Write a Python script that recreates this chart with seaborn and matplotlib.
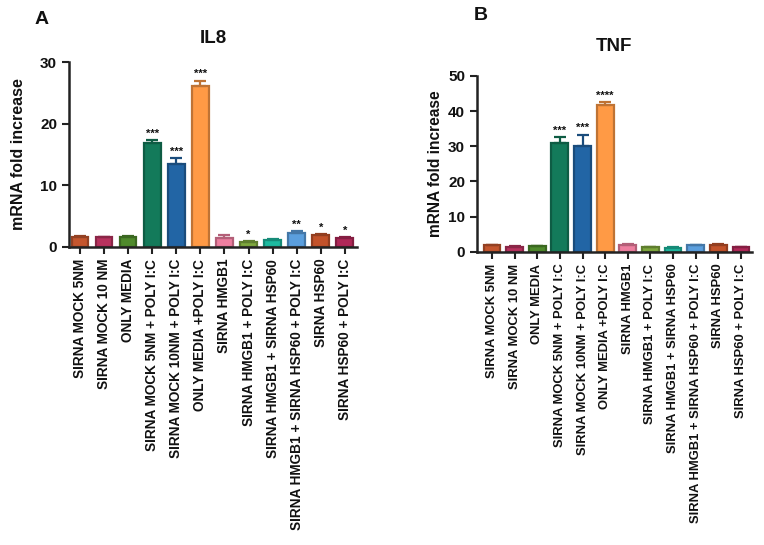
import numpy as np
import pandas as pd
import seaborn as sns
import matplotlib.pyplot as plt
from matplotlib.colors import to_rgb

# Data
groups = ["SIRNA MOCK 5NM", "SIRNA MOCK 10 NM", "ONLY MEDIA",
          "SIRNA MOCK 5NM + POLY I:C", "SIRNA MOCK 10NM + POLY I:C",
          "ONLY MEDIA +POLY I:C", "SIRNA HMGB1", "SIRNA HMGB1 + POLY I:C",
          "SIRNA HMGB1 + SIRNA HSP60", "SIRNA HMGB1 + SIRNA HSP60 + POLY I:C",
          "SIRNA HSP60", "SIRNA HSP60 + POLY I:C"]

il8_mean = [1.7, 1.6, 1.7, 16.8, 13.4, 26.1, 1.5, 0.8, 1.2, 2.2, 1.9, 1.5]
il8_err = [0.1, 0.1, 0.15, 0.6, 1.0, 0.9, 0.5, 0.1, 0.1, 0.4, 0.2, 0.1]
il8_stars = ["", "", "", "***", "***", "***", "", "*", "", "**", "*", "*"]

tnf_mean = [1.9, 1.5, 1.6, 31.0, 30.2, 41.7, 1.9, 1.3, 1.2, 1.9, 2.0, 1.3]
tnf_err = [0.1, 0.1, 0.1, 1.6, 3.0, 0.8, 0.3, 0.1, 0.1, 0.1, 0.1, 0.1]
tnf_stars = ["", "", "", "***", "***", "****", "", "", "", "", "", ""]

bar_colors = ["#c4562e", "#b8325e", "#4f8a2c", "#137a5a", "#2265a5", "#ff9a45",
              "#ee7fa0", "#7fa83e", "#1ebaa0", "#5b9fde", "#c2522a", "#b02858"]

sns.set_style("ticks")
plt.rcParams["font.family"] = ["Liberation Sans", "DejaVu Sans"]
plt.rcParams["font.weight"] = "bold"
plt.rcParams["text.color"] = "#111111"
plt.rcParams["axes.labelcolor"] = "#111111"
plt.rcParams["xtick.color"] = "#111111"
plt.rcParams["ytick.color"] = "#111111"


def darker(c, f=0.75):
    r, g, b = to_rgb(c)
    return (r * f, g * f, b * f)


def draw_panel(ax, means, errs, stars, ymax, ystep, width, xlim, tick_fs,
               title, title_pad, star_off, ylab_fs, ylab_pad):
    df = pd.DataFrame({"group": groups, "value": means})
    sns.barplot(data=df, x="group", y="value", hue="group", palette=bar_colors,
                legend=False, width=width, ax=ax, saturation=1)
    edges = [darker(c) for c in bar_colors]
    for patch, ec in zip(ax.patches, edges):
        patch.set_edgecolor(ec)
        patch.set_linewidth(1.6)
    x = np.arange(len(groups))
    for i in range(len(groups)):
        ax.errorbar(x[i], means[i], yerr=[[0], [errs[i]]], fmt="none",
                    ecolor=edges[i], elinewidth=1.6, capsize=4, capthick=1.6)
        if stars[i]:
            ax.text(x[i], means[i] + errs[i] + star_off, stars[i], ha="center",
                    va="bottom", fontsize=8, color="#111111")
    ax.set_ylim(0, ymax)
    ax.set_yticks(np.arange(0, ymax + 1, ystep))
    ax.set_xlim(*xlim)
    ax.set_xlabel("")
    ax.set_ylabel("mRNA fold increase", fontsize=ylab_fs, fontweight="bold",
                  labelpad=ylab_pad)
    ax.set_title(title, fontsize=13.5, fontweight="bold", pad=title_pad)
    ax.set_xticks(x)
    ax.set_xticklabels(groups, rotation=90, fontsize=tick_fs, fontweight="bold",
                       va="top", ha="center")
    ax.tick_params(axis="both", width=1.5, length=5, color="#222222")
    ax.tick_params(axis="y", labelsize=11)
    for lbl in ax.get_yticklabels():
        lbl.set_fontweight("bold")
    for s in ["left", "bottom"]:
        ax.spines[s].set_linewidth(1.8)
        ax.spines[s].set_color("#222222")
    sns.despine(ax=ax)


fig = plt.figure(figsize=(7.64, 5.45), dpi=100)
ax_a = fig.add_axes([0.0903, 0.5468, 0.3767, 0.3394])
ax_b = fig.add_axes([0.6243, 0.538, 0.3596, 0.3226])

draw_panel(ax_a, il8_mean, il8_err, il8_stars, 30, 10, 0.69, (-0.46, 11.5),
           9.8, "IL8", 14, 0.2, 11.5, 10)
draw_panel(ax_b, tnf_mean, tnf_err, tnf_stars, 50, 10, 0.74, (-0.66, 11.47),
           9.4, "TNF", 18, 0.5, 11.2, 4)

fig.text(0.045, 0.965, "A", fontsize=14, fontweight="bold", ha="left", va="center")
fig.text(0.62, 0.972, "B", fontsize=14, fontweight="bold", ha="left", va="center")

fig.savefig("out.png", dpi=100, facecolor="white")
